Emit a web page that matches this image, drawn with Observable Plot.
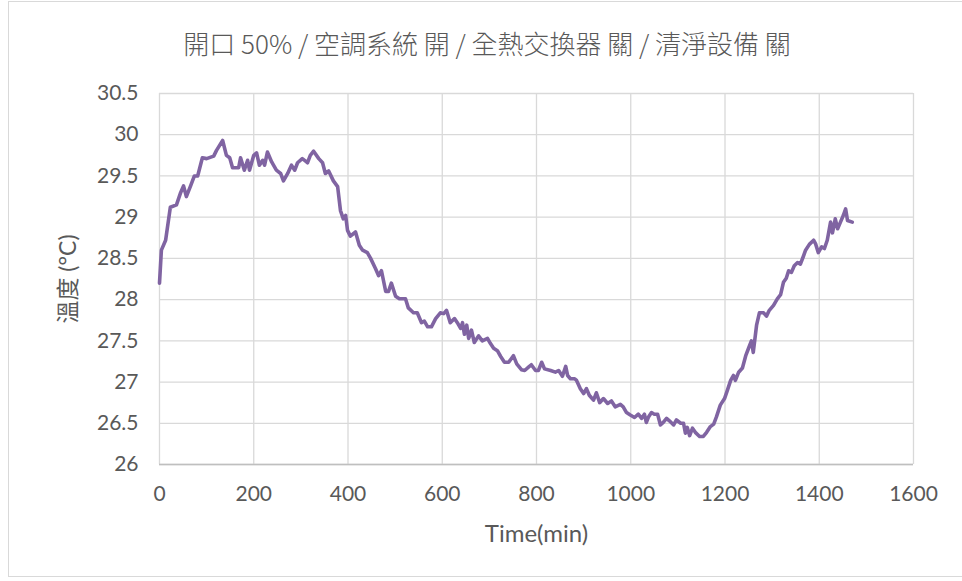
<!DOCTYPE html>
<html>
<head>
<meta charset="utf-8">
<script src="https://cdn.jsdelivr.net/npm/d3@7"></script>
<script src="https://cdn.jsdelivr.net/npm/@observablehq/plot@0.6"></script>
<style>
  html, body { margin: 0; padding: 0; background: #fff; }
  #wrap { position: relative; width: 962px; height: 581px; overflow: hidden; }
  #frame { position: absolute; left: 8px; top: 1px; width: 962px; height: 576px; border: 1px solid #d9d9d9; box-sizing: border-box; }
  #title { position: absolute; left: 0; top: 24px; width: 974px; text-align: center;
           font-family: "Noto Sans CJK TC", "Noto Sans", sans-serif; font-size: 26px; font-weight: 300; color: #595959; }
  #chart { position: absolute; left: 0; top: 0; }
</style>
</head>
<body>
<div id="wrap">
  <div id="frame"></div>
  <div id="chart"></div>
  <div id="title">開口 50% / 空調系統 開 / 全熱交換器 關 / 清淨設備 關</div>
</div>
<script>
const titleText = "開口 50% / 空調系統 開 / 全熱交換器 關 / 清淨設備 關";
const xLabel = "Time(min)";
const yLabel = "溫度 (°C)";
const xTicks = [0, 200, 400, 600, 800, 1000, 1200, 1400, 1600];
const yTicks = [26, 26.5, 27, 27.5, 28, 28.5, 29, 29.5, 30, 30.5];

const time = [0,4,13,23,36,45,51,57,66,74,81,91,100,115,121,134,142,149,155,168,172,180,187,191,200,206,212,219,223,229,238,248,257,263,272,280,287,293,303,310,314,320,327,338,346,352,359,369,378,384,390,395,399,405,416,424,431,441,448,458,465,471,480,486,492,501,509,522,528,539,547,556,562,569,577,586,596,603,609,617,626,632,639,643,647,652,656,662,668,677,685,696,702,709,717,724,732,741,751,758,768,775,783,789,798,804,811,817,830,840,847,855,862,866,872,881,885,893,900,906,912,921,927,934,942,951,959,967,978,984,991,999,1008,1016,1023,1029,1033,1038,1044,1050,1057,1063,1069,1076,1082,1091,1097,1106,1112,1116,1120,1125,1131,1137,1146,1154,1161,1169,1176,1182,1190,1199,1205,1212,1218,1222,1229,1237,1244,1250,1256,1260,1267,1273,1282,1288,1294,1303,1311,1318,1324,1330,1335,1341,1347,1354,1360,1366,1371,1379,1388,1392,1398,1405,1411,1417,1424,1428,1434,1439,1445,1451,1456,1460,1470];
const temp = [28.20,28.60,28.72,29.12,29.15,29.30,29.38,29.25,29.38,29.50,29.50,29.72,29.71,29.74,29.81,29.93,29.75,29.72,29.60,29.60,29.72,29.57,29.69,29.57,29.75,29.78,29.63,29.69,29.63,29.79,29.67,29.57,29.53,29.44,29.53,29.63,29.57,29.66,29.71,29.68,29.66,29.75,29.80,29.71,29.66,29.53,29.56,29.44,29.37,29.08,28.98,29.02,28.84,28.77,28.82,28.66,28.60,28.57,28.50,28.38,28.29,28.35,28.10,28.10,28.20,28.04,28.01,28.01,27.90,27.84,27.84,27.72,27.74,27.67,27.67,27.77,27.84,27.83,27.87,27.72,27.77,27.72,27.65,27.72,27.58,27.69,27.53,27.63,27.48,27.56,27.50,27.53,27.47,27.41,27.38,27.31,27.24,27.24,27.32,27.22,27.15,27.14,27.18,27.21,27.14,27.14,27.24,27.16,27.14,27.12,27.14,27.07,27.19,27.08,27.04,27.04,27.02,26.92,26.86,26.92,26.84,26.78,26.87,26.75,26.80,26.74,26.77,26.70,26.73,26.70,26.63,26.60,26.57,26.61,26.56,26.61,26.51,26.58,26.63,26.61,26.61,26.48,26.51,26.56,26.53,26.48,26.54,26.50,26.50,26.38,26.45,26.35,26.44,26.39,26.34,26.34,26.39,26.46,26.49,26.58,26.72,26.80,26.90,27.02,27.08,27.02,27.12,27.17,27.32,27.41,27.50,27.36,27.69,27.84,27.84,27.80,27.87,27.93,28.01,28.06,28.21,28.26,28.35,28.33,28.41,28.45,28.43,28.52,28.60,28.67,28.72,28.68,28.57,28.64,28.62,28.72,28.94,28.81,28.98,28.86,28.94,29.02,29.10,28.96,28.94];

const data = time.map((t, i) => ({t, v: temp[i]}));
const font = "Lato, 'Noto Sans', 'Noto Sans CJK TC', sans-serif";

const chart = Plot.plot({
  width: 962,
  height: 581,
  marginLeft: 159,
  marginRight: 49,
  marginTop: 93,
  marginBottom: 117,
  style: {fontFamily: font, background: "transparent", overflow: "visible"},
  x: {domain: [0, 1600], ticks: xTicks},
  y: {domain: [26, 30.5], ticks: yTicks},
  marks: [
    Plot.gridX(xTicks, {stroke: "#d9d9d9", strokeOpacity: 1, strokeWidth: 1.3}),
    Plot.gridY(yTicks, {stroke: "#d9d9d9", strokeOpacity: 1, strokeWidth: 1.3}),
    Plot.ruleY([26], {stroke: "#bfbfbf", strokeWidth: 1.5}),
    Plot.axisX(xTicks, {tickSize: 0, tickPadding: 22, fontSize: 21, fill: "#595959", label: null, tickFormat: d => String(d)}),
    Plot.axisY(yTicks, {tickSize: 0, tickPadding: 21, fontSize: 21, fill: "#595959", label: null, tickFormat: d => String(d)}),
    Plot.line(data, {x: "t", y: "v", stroke: "#8064a2", strokeWidth: 3.6, strokeLinejoin: "round", strokeLinecap: "round"}),
    Plot.text([xLabel], {frameAnchor: "bottom", dy: 77, fontSize: 24, fill: "#595959", fontFamily: font}),
    Plot.text([yLabel], {frameAnchor: "left", textAnchor: "middle", dx: -91, rotate: -90, fontSize: 23, fill: "#595959", fontFamily: font})
  ]
});
document.getElementById("chart").appendChild(chart);
</script>
</body>
</html>
